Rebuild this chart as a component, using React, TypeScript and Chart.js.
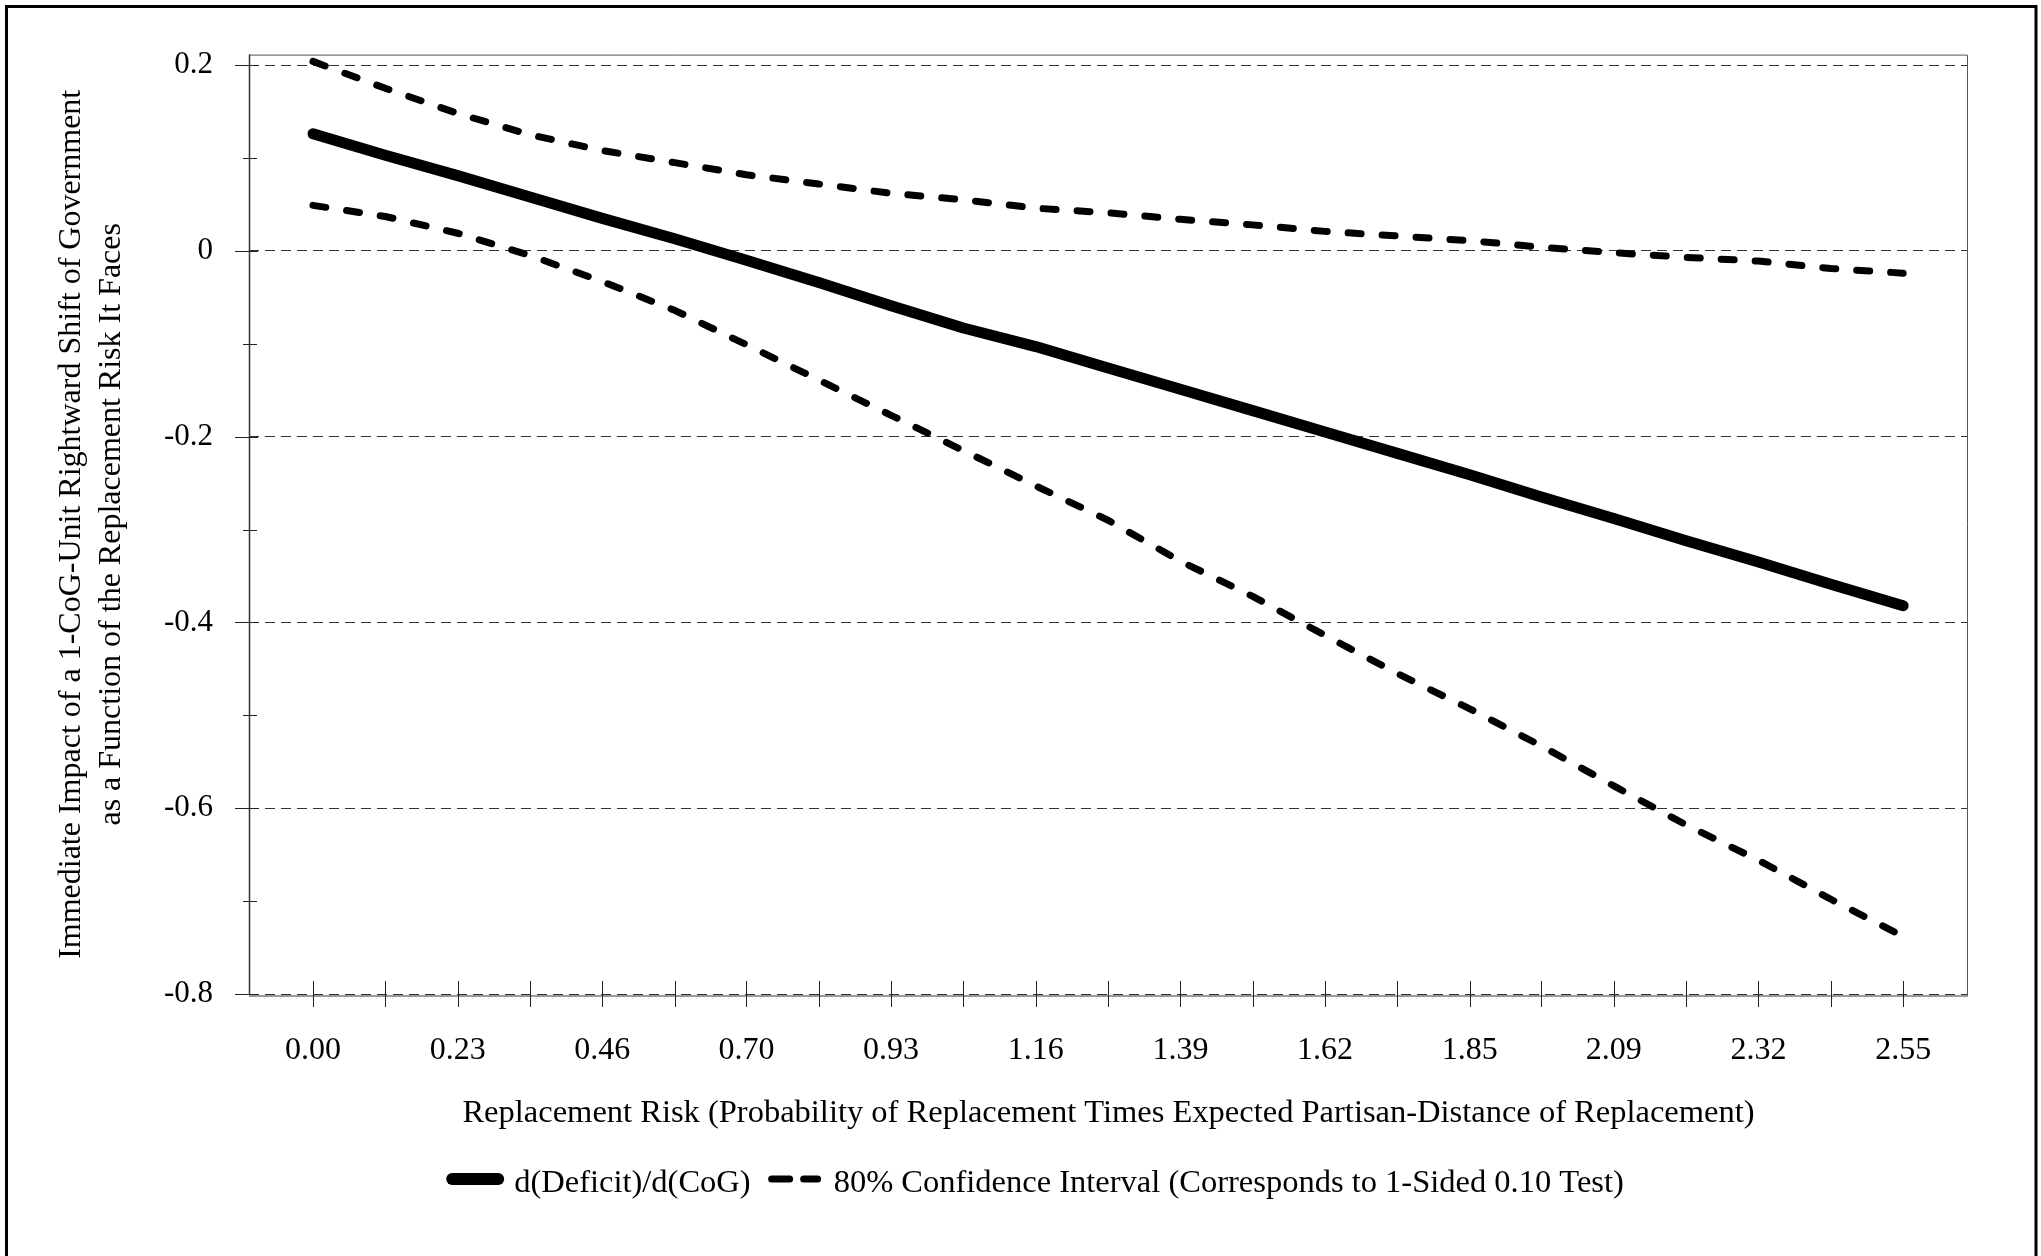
import React, { useEffect, useRef } from "react";
import { Chart, registerables } from "chart.js";

Chart.register(...registerables);

// ---- Data ----
const riskValues = [
  0.0, 0.116, 0.232, 0.348, 0.464, 0.58, 0.695, 0.811, 0.927, 1.043, 1.159, 1.275,
  1.391, 1.507, 1.623, 1.739, 1.855, 1.97, 2.086, 2.202, 2.318, 2.434, 2.55,
];
const xTickLabels = ["0.00", "0.23", "0.46", "0.70", "0.93", "1.16", "1.39", "1.62", "1.85", "2.09", "2.32", "2.55"];
const effect = [
  0.126, 0.103, 0.081, 0.058, 0.035, 0.013, -0.01, -0.034, -0.059, -0.083, -0.103, -0.126,
  -0.149, -0.172, -0.195, -0.218, -0.241, -0.265, -0.288, -0.312, -0.335, -0.359, -0.382,
];
const upperCI = [
  0.204, 0.175, 0.148, 0.125, 0.108, 0.095, 0.082, 0.072, 0.062, 0.055, 0.046, 0.041,
  0.034, 0.028, 0.021, 0.016, 0.011, 0.004, -0.002, -0.007, -0.011, -0.019, -0.024,
];
const lowerCI = [
  0.049, 0.037, 0.019, -0.005, -0.033, -0.064, -0.101, -0.139, -0.177, -0.215, -0.253, -0.29,
  -0.334, -0.372, -0.414, -0.455, -0.493, -0.533, -0.576, -0.618, -0.656, -0.698, -0.738,
];
const yTickValues = [-0.8, -0.7, -0.6, -0.5, -0.4, -0.3, -0.2, -0.1, 0, 0.1, 0.2];
const yTickLabels = ["-0.8", "", "-0.6", "", "-0.4", "", "-0.2", "", "0", "", "0.2"];
const seriesLabels = ["d(Deficit)/d(CoG)", "80% Confidence Interval (Corresponds to 1-Sided 0.10 Test)"];
const xTitle = "Replacement Risk (Probability of Replacement Times Expected Partisan-Distance of Replacement)";
const yTitle = [
  "Immediate Impact of a 1-CoG-Unit Rightward Shift of Government",
  "as a Function of the Replacement Risk It Faces",
];

const FONT = "'Liberation Serif', 'Times New Roman', Times, serif";
const W = 2041;
const H = 1256;

const isMajorY = (v: number) => Math.round(v * 10) % 2 === 0;

const chromePlugin = {
  id: "chrome",
  beforeDraw(chart: any) {
    const ctx = chart.ctx;
    ctx.save();
    ctx.fillStyle = "#fff";
    ctx.fillRect(0, 0, chart.width, chart.height);
    ctx.strokeStyle = "#000";
    ctx.lineWidth = 3;
    ctx.strokeRect(6.5, 6.5, 2029.5, 1300);
    ctx.restore();
  },
  beforeDatasetsDraw(chart: any) {
    const { ctx, chartArea: a, scales } = chart;
    ctx.save();
    // plot frame
    ctx.strokeStyle = "#555";
    ctx.lineWidth = 1;
    ctx.beginPath();
    ctx.moveTo(a.left, a.top + 0.5);
    ctx.lineTo(a.right - 0.5, a.top + 0.5);
    ctx.lineTo(a.right - 0.5, a.bottom);
    ctx.stroke();
    // left axis
    ctx.strokeStyle = "#333";
    ctx.lineWidth = 1.5;
    ctx.beginPath();
    ctx.moveTo(a.left + 0.5, a.top);
    ctx.lineTo(a.left + 0.5, a.bottom + 1);
    ctx.stroke();
    // bottom axis
    ctx.strokeStyle = "#777";
    ctx.lineWidth = 1.5;
    ctx.beginPath();
    ctx.moveTo(a.left, a.bottom + 2);
    ctx.lineTo(a.right, a.bottom + 2);
    ctx.stroke();
    // x tick marks (crossing)
    ctx.strokeStyle = "#222";
    ctx.lineWidth = 1;
    for (const v of riskValues) {
      const px = Math.round(scales.x.getPixelForValue(v)) + 0.5;
      ctx.beginPath();
      ctx.moveTo(px, a.bottom - 13);
      ctx.lineTo(px, a.bottom + 13);
      ctx.stroke();
    }
    // y tick marks (crossing)
    for (const v of yTickValues) {
      const py = Math.round(scales.y.getPixelForValue(v)) + 0.5;
      ctx.beginPath();
      if (isMajorY(v)) {
        ctx.moveTo(a.left - 14, py);
        ctx.lineTo(a.left + 9, py);
      } else {
        ctx.moveTo(a.left - 6, py);
        ctx.lineTo(a.left + 8, py);
      }
      ctx.stroke();
    }
    ctx.restore();
  },
  afterDraw(chart: any) {
    const ctx = chart.ctx;
    ctx.save();
    ctx.font = `32.5px ${FONT}`;
    ctx.fillStyle = "#000";
    ctx.textBaseline = "middle";
    ctx.textAlign = "left";
    const t1 = ctx.measureText(seriesLabels[0]).width;
    const t2 = ctx.measureText(seriesLabels[1]).width;
    const sym1 = 58, gap1 = 10, gap2 = 17, sym2 = 54, gap3 = 12;
    const total = sym1 + gap1 + t1 + gap2 + sym2 + gap3 + t2;
    const cx = 1035;
    const cy = 1179;
    let x = cx - total / 2;
    // solid symbol
    ctx.strokeStyle = "#000";
    ctx.lineCap = "round";
    ctx.lineWidth = 12;
    ctx.beginPath();
    ctx.moveTo(x + 6, cy);
    ctx.lineTo(x + sym1 - 6, cy);
    ctx.stroke();
    x += sym1 + gap1;
    ctx.fillText(seriesLabels[0], x, cy + 4);
    x += t1 + gap2;
    // dashed symbol
    ctx.lineWidth = 7;
    ctx.beginPath();
    ctx.moveTo(x + 4, cy);
    ctx.lineTo(x + 22, cy);
    ctx.moveTo(x + 36, cy);
    ctx.lineTo(x + 50, cy);
    ctx.stroke();
    x += sym2 + gap3;
    ctx.fillText(seriesLabels[1], x, cy + 4);
    ctx.restore();
  },
};

export default function App() {
  const canvasRef = useRef<HTMLCanvasElement | null>(null);

  useEffect(() => {
    const canvas = canvasRef.current;
    if (!canvas) return;
    const toPoints = (ys: number[]) => riskValues.map((x, i) => ({ x, y: ys[i] }));
    const chart = new Chart(canvas, {
      type: "line",
      data: {
        datasets: [
          {
            label: seriesLabels[0],
            data: toPoints(effect),
            borderColor: "#000",
            backgroundColor: "#000",
            borderWidth: 11,
            borderCapStyle: "round",
            borderJoinStyle: "round",
            pointRadius: 0,
            fill: false,
            tension: 0,
          },
          {
            label: seriesLabels[1],
            data: toPoints(upperCI),
            borderColor: "#000",
            backgroundColor: "#000",
            borderWidth: 7,
            borderDash: [13, 21],
            borderCapStyle: "round",
            borderJoinStyle: "round",
            pointRadius: 0,
            fill: false,
            tension: 0,
          },
          {
            label: seriesLabels[1],
            data: toPoints(lowerCI),
            borderColor: "#000",
            backgroundColor: "#000",
            borderWidth: 7,
            borderDash: [13, 21],
            borderCapStyle: "round",
            borderJoinStyle: "round",
            pointRadius: 0,
            fill: false,
            tension: 0,
          },
        ],
      },
      options: {
        responsive: false,
        animation: false,
        devicePixelRatio: 1,
        layout: { padding: { left: 0, top: 54, right: 73, bottom: 0 } },
        plugins: {
          legend: { display: false },
          tooltip: { enabled: false },
        },
        scales: {
          x: {
            type: "linear",
            min: -0.1026,
            max: 2.654,
            afterBuildTicks: (s: any) => {
              s.ticks = riskValues.map((v) => ({ value: v }));
            },
            afterFit: (s: any) => {
              s.height = 262;
            },
            grid: { display: false, drawTicks: false },
            border: { display: false },
            ticks: {
              autoSkip: false,
              maxRotation: 0,
              minRotation: 0,
              padding: 37,
              color: "#000",
              font: { family: FONT, size: 32 },
              callback: (_v: any, i: number) => (i % 2 === 0 ? xTickLabels[i / 2] : ""),
            },
            title: {
              display: true,
              text: xTitle,
              color: "#000",
              font: { family: FONT, size: 32.5 },
              padding: { top: 0, bottom: 123 },
            },
          },
          y: {
            type: "linear",
            min: -0.8,
            max: 0.2113,
            afterBuildTicks: (s: any) => {
              s.ticks = yTickValues.map((v) => ({ value: v }));
            },
            afterFit: (s: any) => {
              s.width = 249;
            },
            grid: {
              drawTicks: false,
              lineWidth: 1,
              color: (c: any) => (c.tick && isMajorY(c.tick.value) ? "#333" : "rgba(0,0,0,0)"),
              borderDash: [10, 6],
            } as any,
            border: { display: false, dash: [10, 6] },
            ticks: {
              autoSkip: false,
              padding: 36,
              color: "#000",
              font: { family: FONT, size: 31 },
              callback: (_v: any, i: number) => yTickLabels[i],
            },
            title: {
              display: true,
              text: yTitle,
              color: "#000",
              font: { family: FONT, size: 32, lineHeight: 1.25 },
              padding: { top: 52, bottom: 0 },
            },
          },
        },
      } as any,
      plugins: [chromePlugin],
    });
    return () => chart.destroy();
  }, []);

  return (
    <div style={{ position: "absolute", left: 0, top: 0, width: W, height: H, background: "#fff" }}>
      <canvas ref={canvasRef} width={W} height={H} style={{ display: "block" }} />
    </div>
  );
}
